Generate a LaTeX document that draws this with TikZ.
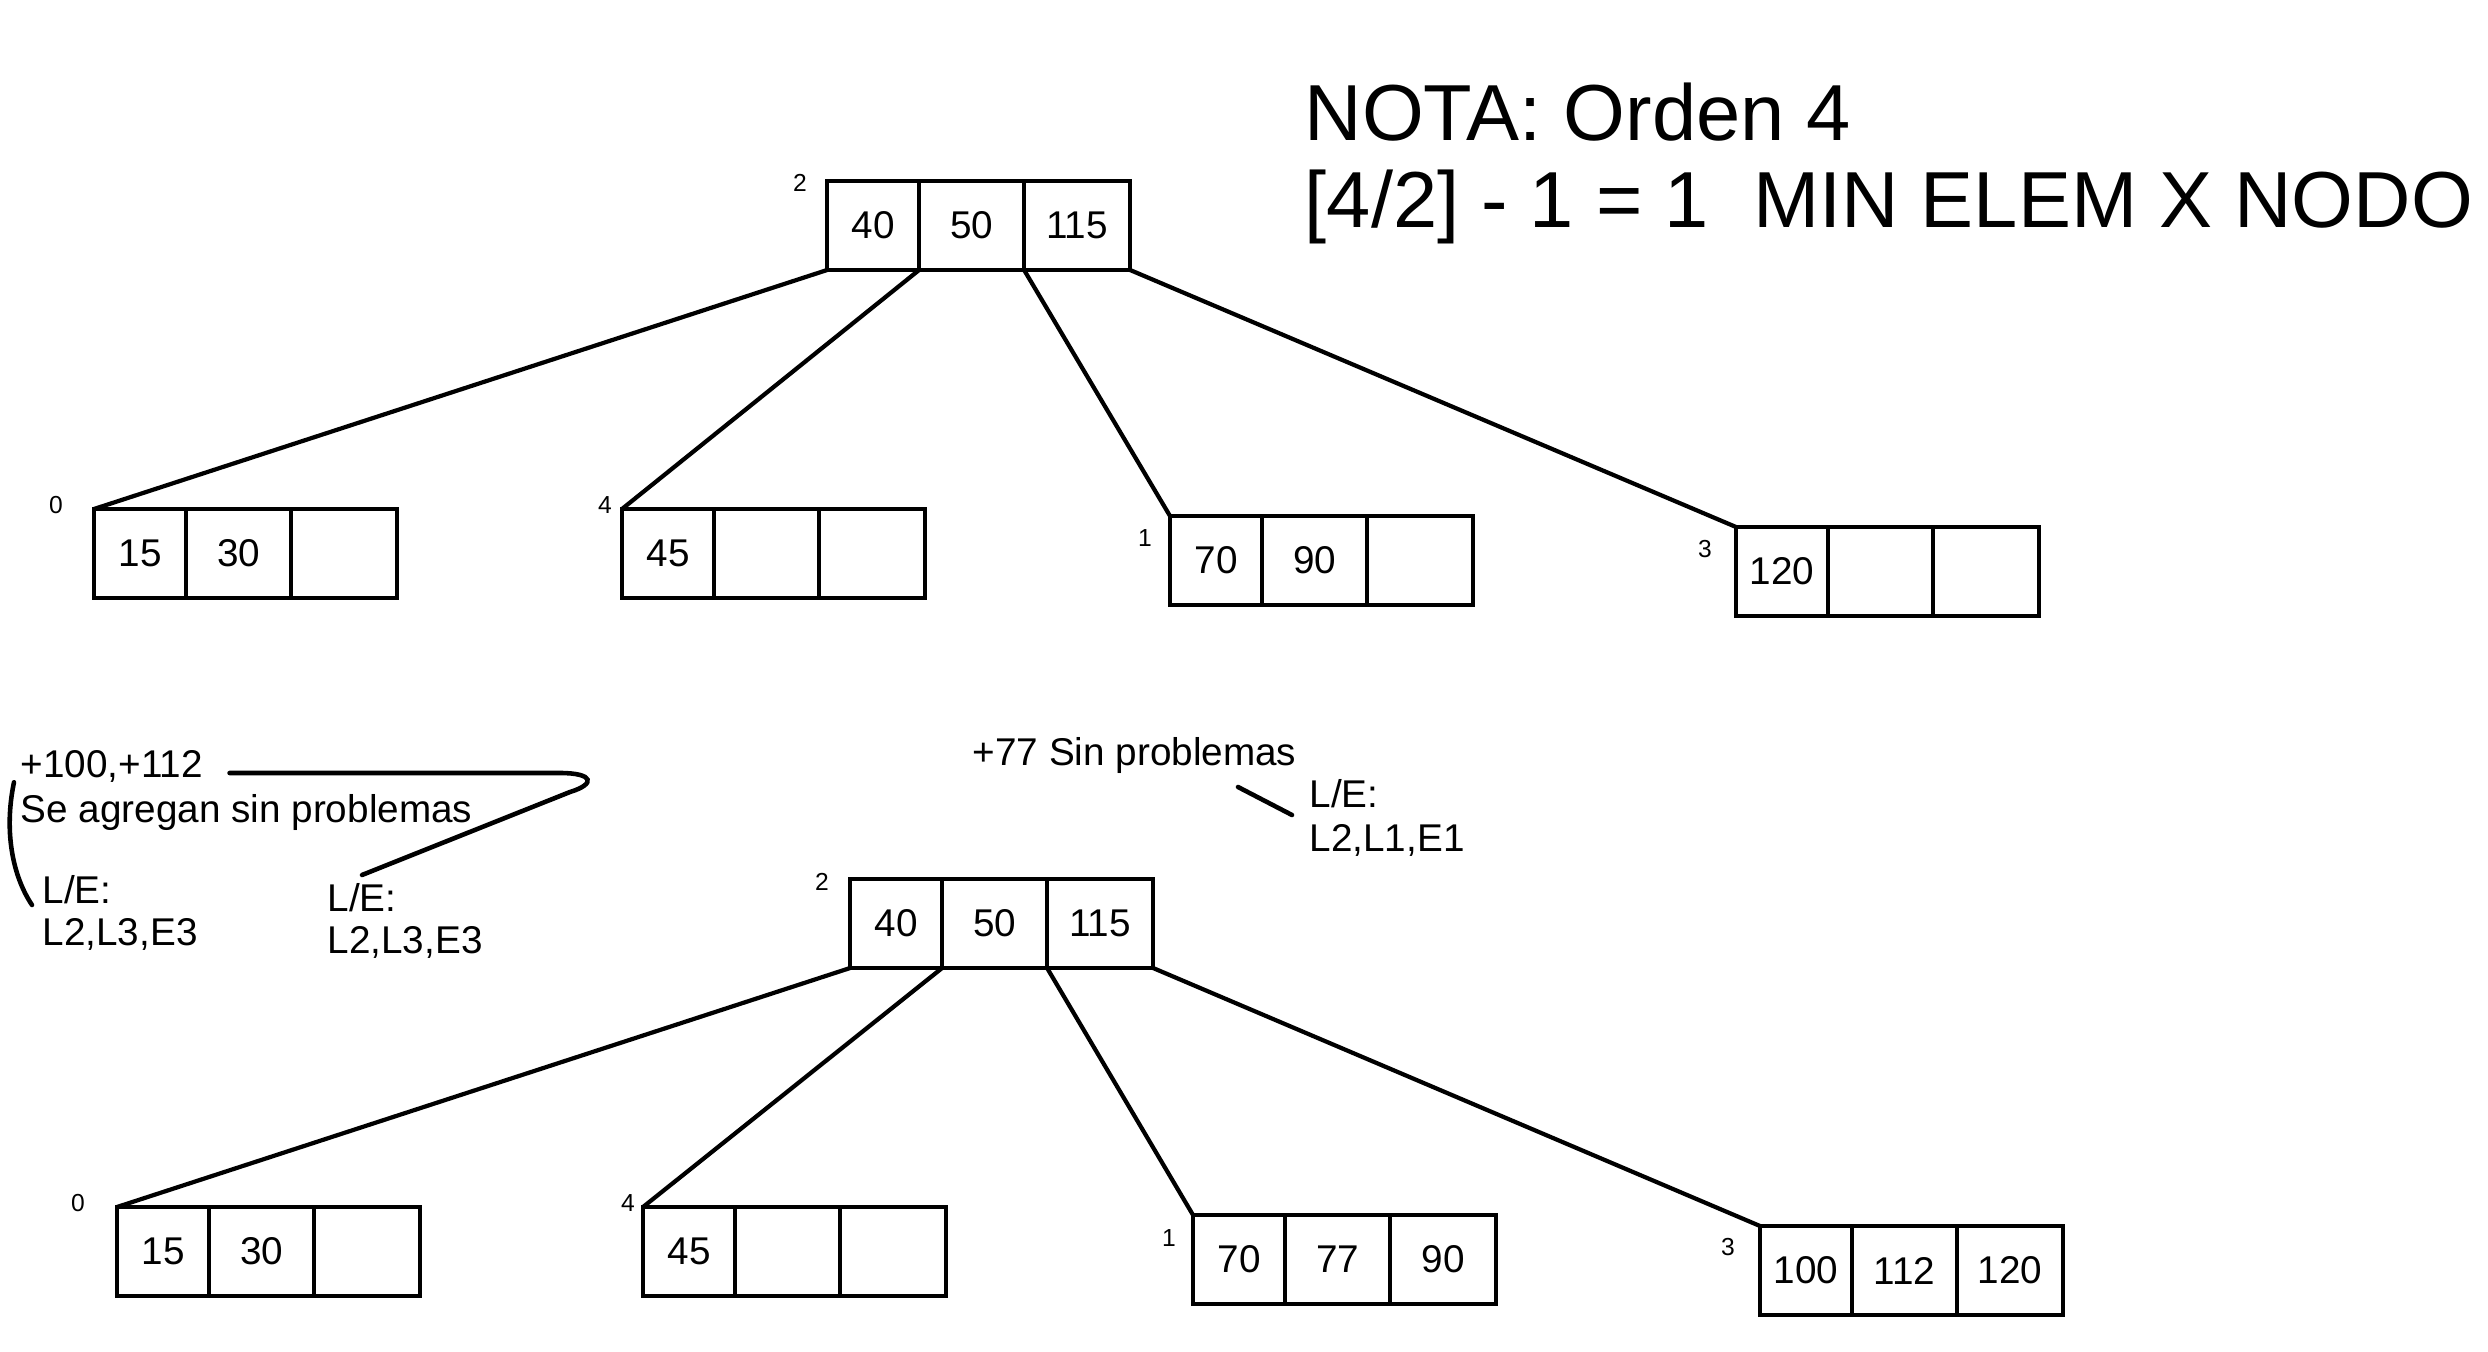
\documentclass[tikz,border=0pt]{standalone}
\usepackage{fontspec}
\setmainfont{Liberation Sans}
\usetikzlibrary{positioning}

\begin{document}
\begin{tikzpicture}[x=0.01cm, y=-0.01cm,
        celda/.style={draw, rectangle, line width=1.2pt, minimum height=0.89cm, minimum width=1.05cm, inner sep=0pt, outer sep=0pt, font=\fontsize{11}{13}\selectfont},
        primera/.style={celda, minimum width=0.92cm, anchor=north west},
        indice/.style={inner sep=0pt, font=\fontsize{7}{8}\selectfont},
        nota/.style={inner sep=0pt, anchor=base west, font=\fontsize{11}{13}\selectfont},
        titulo/.style={inner sep=0pt, anchor=base west, font=\fontsize{22.6}{25}\selectfont},
        rama/.style={line width=1.2pt},
        trazo/.style={line width=1.3pt, line cap=round}]
        \useasboundingbox (0,0) rectangle (2488,1352);

        % Nota
        \node[titulo] (nota) at (1304,141) {NOTA: Orden 4};
        \node[titulo] (regla) at ([shift={(0,87)}]nota.base west) {[4/2] - 1 = 1\ \ MIN ELEM X NODO};

        % Arbol antes de insertar
        \node[primera] (raizA1) at (827,181) {40};
        \node[celda, right=0pt of raizA1] (raizA2) {50};
        \node[celda, right=0pt of raizA2, minimum width=1.06cm] (raizA3) {115};
        \node[indice] (iraizA) at ([shift={(-27,2)}]raizA1.north west) {2};

        \node[primera] (hoja0A1) at (94,509) {15};
        \node[celda, right=0pt of hoja0A1] (hoja0A2) {30};
        \node[celda, right=0pt of hoja0A2, minimum width=1.06cm] (hoja0A3) {};
        \node[indice] (ihoja0A) at ([shift={(-38,-4)}]hoja0A1.north west) {0};

        \node[primera] (hoja4A1) at (622,509) {45};
        \node[celda, right=0pt of hoja4A1] (hoja4A2) {};
        \node[celda, right=0pt of hoja4A2, minimum width=1.06cm] (hoja4A3) {};
        \node[indice] (ihoja4A) at ([shift={(-17,-4)}]hoja4A1.north west) {4};

        \node[primera] (hoja1A1) at (1170,516) {70};
        \node[celda, right=0pt of hoja1A1] (hoja1A2) {90};
        \node[celda, right=0pt of hoja1A2, minimum width=1.06cm] (hoja1A3) {};
        \node[indice] (ihoja1A) at ([shift={(-25,22)}]hoja1A1.north west) {1};

        \node[primera] (hoja3A1) at (1736,527) {120};
        \node[celda, right=0pt of hoja3A1] (hoja3A2) {};
        \node[celda, right=0pt of hoja3A2, minimum width=1.06cm] (hoja3A3) {};
        \node[indice] (ihoja3A) at ([shift={(-31,22)}]hoja3A1.north west) {3};

        % Ramas arbol antes
        \draw[rama] (raizA1.south west) -- (hoja0A1.north west);
        \draw[rama] (raizA2.south west) -- (hoja4A1.north west);
        \draw[rama] (raizA3.south west) -- (hoja1A1.north west);
        \draw[rama] (raizA3.south east) -- (hoja3A1.north west);

        % Anotaciones
        \node[nota] (suma) at (20,777) {+100,+112};
        \node[nota] (agregan) at (20,822) {Se agregan sin problemas};
        \node[nota] (leA) at (42,903) {L/E:};
        \node[nota] (leA2) at ([shift={(0,42)}]leA.base west) {L2,L3,E3};
        \node[nota] (leB) at (327,911) {L/E:};
        \node[nota] (leB2) at ([shift={(0,42)}]leB.base west) {L2,L3,E3};
        \node[nota] (sin77) at (972,765) {+77 Sin problemas};
        \node[nota] (leC) at (1309,807) {L/E:};
        \node[nota] (leC2) at ([shift={(0,44)}]leC.base west) {L2,L1,E1};

        \coordinate (llaveA) at ([shift={(-6,-11)}]agregan.north west);
        \coordinate (llaveB) at ([shift={(-10,2)}]leA.base west);
        \coordinate (curvaA) at ([shift={(26,-4)}]suma.base east);
        \coordinate (curvaB) at ([shift={(35,-36)}]leB.base west);
        \coordinate (rayaA) at (1238,787);
        \coordinate (rayaB) at ([shift={(-17,8)}]leC.base west);

        \draw[trazo] (llaveA) .. controls (4,830) and (12,875) .. (llaveB);
        \draw[trazo] (curvaA) -- (560,773) .. controls (594,773) and (596,784) .. (570,792) -- (curvaB);
        \draw[trazo] (rayaA) -- (rayaB);

        % Arbol despues de insertar
        \node[primera] (raizB1) at (850,879) {40};
        \node[celda, right=0pt of raizB1] (raizB2) {50};
        \node[celda, right=0pt of raizB2, minimum width=1.06cm] (raizB3) {115};
        \node[indice] (iraizB) at ([shift={(-28,3)}]raizB1.north west) {2};

        \node[primera] (hoja0B1) at (117,1207) {15};
        \node[celda, right=0pt of hoja0B1] (hoja0B2) {30};
        \node[celda, right=0pt of hoja0B2, minimum width=1.06cm] (hoja0B3) {};
        \node[indice] (ihoja0B) at ([shift={(-39,-4)}]hoja0B1.north west) {0};

        \node[primera] (hoja4B1) at (643,1207) {45};
        \node[celda, right=0pt of hoja4B1] (hoja4B2) {};
        \node[celda, right=0pt of hoja4B2, minimum width=1.06cm] (hoja4B3) {};
        \node[indice] (ihoja4B) at ([shift={(-15,-4)}]hoja4B1.north west) {4};

        \node[primera] (hoja1B1) at (1193,1215) {70};
        \node[celda, right=0pt of hoja1B1] (hoja1B2) {77};
        \node[celda, right=0pt of hoja1B2, minimum width=1.06cm] (hoja1B3) {90};
        \node[indice] (ihoja1B) at ([shift={(-24,23)}]hoja1B1.north west) {1};

        \node[primera] (hoja3B1) at (1760,1226) {100};
        \node[celda, right=0pt of hoja3B1] (hoja3B2) {112};
        \node[celda, right=0pt of hoja3B2, minimum width=1.06cm] (hoja3B3) {120};
        \node[indice] (ihoja3B) at ([shift={(-32,21)}]hoja3B1.north west) {3};

        % Ramas arbol despues
        \draw[rama] (raizB1.south west) -- (hoja0B1.north west);
        \draw[rama] (raizB2.south west) -- (hoja4B1.north west);
        \draw[rama] (raizB3.south west) -- (hoja1B1.north west);
        \draw[rama] (raizB3.south east) -- (hoja3B1.north west);
    \end{tikzpicture}
\end{document}
